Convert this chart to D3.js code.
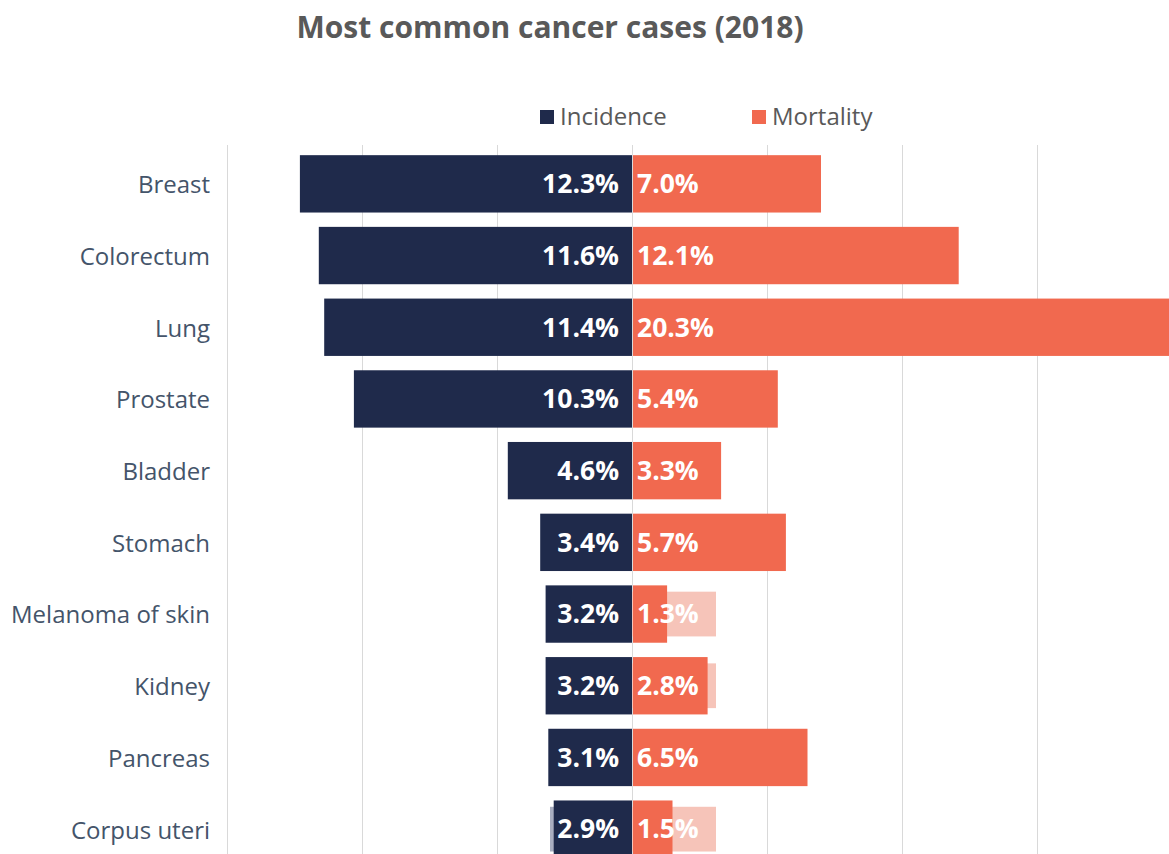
<!DOCTYPE html>
<meta charset="utf-8">
<style>
body { margin: 0; background: #fff; }
svg { display: block; font-family: "Open Sans", Lato, sans-serif; }
.grid line { stroke: #d9d9d9; stroke-width: 1; }
.grid path { display: none; }
.cat { fill: #44546a; font-size: 24px; }
.val { fill: #fff; font-size: 26.5px; font-weight: bold; }
.legend text { fill: #595959; font-size: 24px; }
</style>
<body>
<script src="https://cdn.jsdelivr.net/npm/d3@7"></script>
<script>

var width = 1169,
    height = 854;

// data
var categories = ["Breast", "Colorectum", "Lung", "Prostate", "Bladder", "Stomach",
                  "Melanoma of skin", "Kidney", "Pancreas", "Corpus uteri"];
var incidence = [12.3, 11.6, 11.4, 10.3, 4.6, 3.4, 3.2, 3.2, 3.1, 2.9];
var mortality = [7.0, 12.1, 20.3, 5.4, 3.3, 5.7, 1.3, 2.8, 6.5, 1.5];
var gridTicks = [-15, -10, -5, 0, 5, 10, 15, 20];
var seriesNames = ["Incidence", "Mortality"];

var navy = "#1f2a4b",
    coral = "#f1694f";

var svg = d3.select("body").append("svg")
    .attr("width", width)
    .attr("height", height);

var x = d3.scaleLinear()
    .domain([-15, 20])
    .range([227, 1172]);

var y = d3.scaleBand()
    .domain(categories)
    .range([148, 865])
    .paddingInner(0.2)
    .paddingOuter(0.1);

var bh = y.bandwidth();
var idx = d3.range(categories.length);

// title
svg.append("text")
    .attr("x", 550)
    .attr("y", 38)
    .attr("text-anchor", "middle")
    .style("font-size", "30px")
    .style("font-weight", "bold")
    .style("fill", "#595959")
    .text("Most common cancer cases (2018)");

// gridlines
svg.append("g")
    .attr("class", "grid")
    .attr("transform", "translate(0,145)")
    .call(d3.axisBottom(x).tickValues(gridTicks).tickSize(height).tickFormat(""));

// legend
var legend = svg.append("g").attr("class", "legend")
    .selectAll("g")
    .data(seriesNames)
  .enter().append("g")
    .attr("transform", function(d, i){ return "translate(" + (i == 0 ? 540 : 752) + ",110)"; });

legend.append("rect")
    .attr("width", 14)
    .attr("height", 14)
    .style("fill", function(d, i){ return i == 0 ? navy : coral; });

legend.append("text")
    .attr("x", 20)
    .attr("y", 15)
    .text(function(d){ return d; });

// category labels
svg.append("g").selectAll("text")
    .data(categories)
  .enter().append("text")
    .attr("class", "cat")
    .attr("x", 210)
    .attr("y", function(d){ return y(d) + bh / 2 + 1; })
    .attr("dy", "0.35em")
    .attr("text-anchor", "end")
    .text(function(d){ return d; });

// faint label boxes where the value label is wider than the bar
var boxM = 84, boxI = 82;

svg.append("g").selectAll("rect")
    .data(idx.filter(function(i){ return x(mortality[i]) - x(0) < boxM; }))
  .enter().append("rect")
    .attr("x", x(0))
    .attr("y", function(i){ return y(categories[i]) + bh * 0.11; })
    .attr("width", boxM)
    .attr("height", bh * 0.78)
    .style("fill", "#f6c4b9");

svg.append("g").selectAll("rect")
    .data(idx.filter(function(i){ return x(0) - x(-incidence[i]) < boxI; }))
  .enter().append("rect")
    .attr("x", x(0) - boxI)
    .attr("y", function(i){ return y(categories[i]) + bh * 0.11; })
    .attr("width", boxI)
    .attr("height", bh * 0.78)
    .style("fill", "#a9aec0");

// incidence bars (to the left)
svg.append("g").selectAll("rect")
    .data(incidence)
  .enter().append("rect")
    .attr("x", function(d){ return x(-d); })
    .attr("y", function(d, i){ return y(categories[i]); })
    .attr("width", function(d){ return x(0) - x(-d); })
    .attr("height", bh)
    .style("fill", navy);

// mortality bars (to the right)
svg.append("g").selectAll("rect")
    .data(mortality)
  .enter().append("rect")
    .attr("x", x(0) + 1)
    .attr("y", function(d, i){ return y(categories[i]); })
    .attr("width", function(d){ return x(d) - x(0) - 1; })
    .attr("height", bh)
    .style("fill", coral);

// value labels
svg.append("g").selectAll("text")
    .data(incidence)
  .enter().append("text")
    .attr("class", "val")
    .attr("x", x(0) - 13)
    .attr("y", function(d, i){ return y(categories[i]) + bh / 2; })
    .attr("dy", "0.35em")
    .attr("text-anchor", "end")
    .text(function(d){ return d.toFixed(1) + "%"; });

svg.append("g").selectAll("text")
    .data(mortality)
  .enter().append("text")
    .attr("class", "val")
    .attr("x", x(0) + 5)
    .attr("y", function(d, i){ return y(categories[i]) + bh / 2; })
    .attr("dy", "0.35em")
    .text(function(d){ return d.toFixed(1) + "%"; });

</script>
